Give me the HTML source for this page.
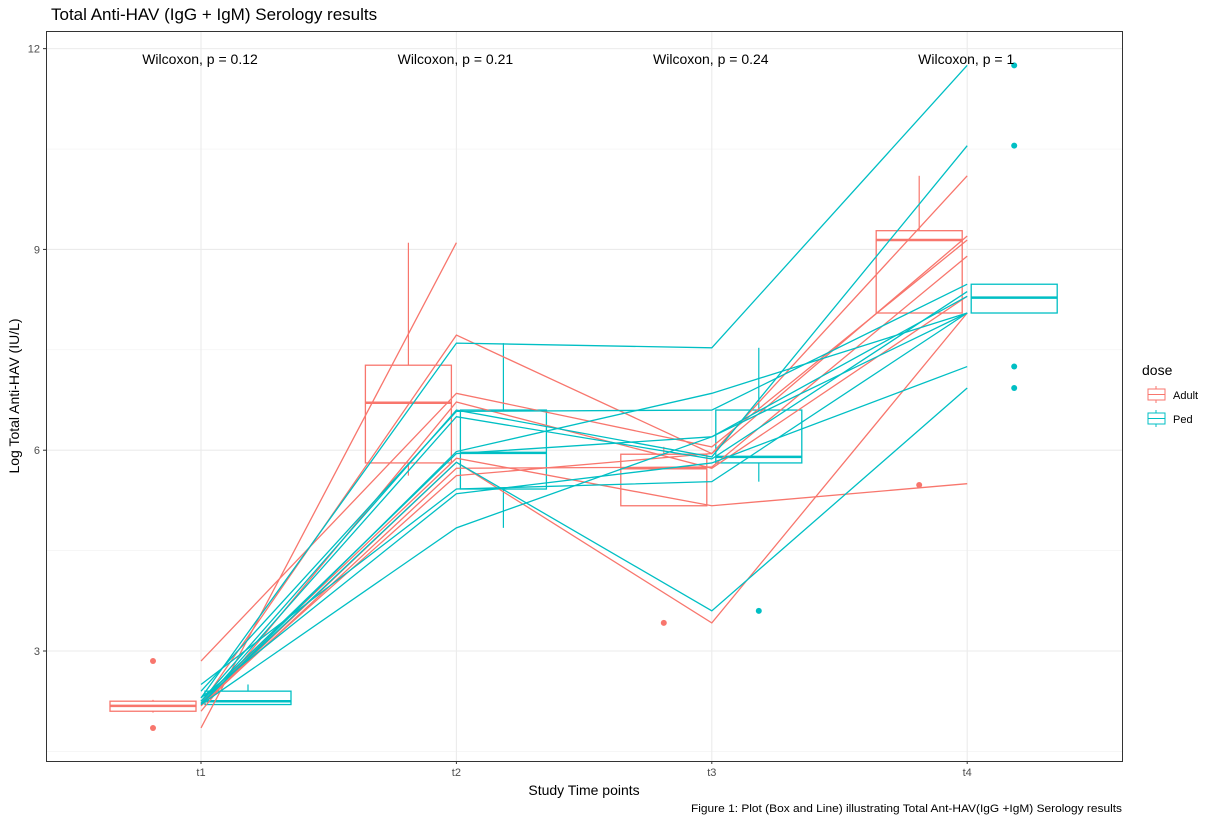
<!DOCTYPE html>
<html><head><meta charset="utf-8"><style>
body{margin:0;background:#fff;font-family:"Liberation Sans",sans-serif}
svg text{font-family:"Liberation Sans",sans-serif}
</style></head><body>
<svg id="c" width="1216" height="825" xmlns="http://www.w3.org/2000/svg">
<rect x="0" y="0" width="1216" height="825" fill="#fff"/>
<text x="51" y="20" font-size="17" fill="#000">Total Anti-HAV (IgG + IgM) Serology results</text>
<g id="grid"></g><g id="marks"></g><g id="axes"></g>
<rect x="46.5" y="31.5" width="1076" height="730" fill="none" stroke="#333" stroke-width="1"/>
<text x="0" y="0" transform="translate(19,396) rotate(-90)" text-anchor="middle" font-size="14">Log Total Anti-HAV (IU/L)</text>
<text x="584" y="795" text-anchor="middle" font-size="14">Study Time points</text>
<text x="1122" y="812" text-anchor="end" font-size="11" textLength="431" lengthAdjust="spacingAndGlyphs">Figure 1: Plot (Box and Line) illustrating Total Ant-HAV(IgG +IgM) Serology results</text>
<g>
<text x="1142" y="375" font-size="14">dose</text>
<g>
<line x1="1156" y1="386" x2="1156" y2="403" stroke="#F8766D"/><rect x="1148" y="389" width="17" height="11" fill="#fff" stroke="#F8766D"/><line x1="1148" y1="394.5" x2="1165" y2="394.5" stroke="#F8766D"/>
<text x="1173" y="399" font-size="11">Adult</text></g>
<g>
<line x1="1156" y1="410" x2="1156" y2="427" stroke="#00BFC4"/><rect x="1148" y="413" width="17" height="11" fill="#fff" stroke="#00BFC4"/><line x1="1148" y1="418.5" x2="1165" y2="418.5" stroke="#00BFC4"/>
<text x="1173" y="423" font-size="11">Ped</text></g>
</g>
</svg>
<script>
const categories=["t1","t2","t3","t4"];
const yTicks=[3,6,9,12];
const yMinor=[1.5,4.5,7.5,10.5];
const pLabels=["Wilcoxon, p = 0.12","Wilcoxon, p = 0.21","Wilcoxon, p = 0.24","Wilcoxon, p = 1"];
const adultLines=[[2.85,6.85,6.05,9.14],[1.85,9.10,null,null],[2.2,7.72,5.95,10.1],[2.1,6.72,5.73,8.3],[2.25,5.88,5.17,5.5],[2.2,5.82,3.42,8.05],[2.18,5.73,5.75,8.9],[2.22,5.62,5.95,9.2]];
const pedLines=[[2.3,7.6,7.53,11.75],[2.25,6.6,5.9,10.55],[2.4,6.58,6.6,8.48],[2.2,5.98,6.85,8.05],[2.2,6.5,5.87,8.37],[2.25,5.95,6.2,8.3],[2.22,5.82,3.6,6.93],[2.5,5.42,5.53,8.05],[2.3,5.35,5.81,7.25],[2.2,4.84,6.2,8.05]];
// box stats: [lowerWhisker,Q1,median,Q3,upperWhisker]
const adultBox=[[2.08,2.1,2.18,2.25,2.27],[5.62,5.81,6.71,7.27,9.1],[5.17,5.17,5.73,5.94,6.05],[8.05,8.05,9.14,9.28,10.1]];
const pedBox=[[2.2,2.2,2.25,2.4,2.5],[4.84,5.42,5.96,6.6,7.6],[5.53,5.81,5.9,6.6,7.53],[8.05,8.05,8.28,8.48,8.48]];
const adultOut=[[2.85,1.85],[],[3.42],[5.48]];
const pedOut=[[],[],[3.6],[11.75,10.55,7.25,6.93]];

const NS="http://www.w3.org/2000/svg";
const y=v=>651-(v-3)*66.93;
const x=i=>201+i*255.4;
function mk(tag,attrs,parent){const e=document.createElementNS(NS,tag);for(const k in attrs)e.setAttribute(k,attrs[k]);parent.appendChild(e);return e;}
const grid=document.getElementById('grid'),marks=document.getElementById('marks'),axes=document.getElementById('axes');
yMinor.forEach(v=>{const l=mk('line',{x1:46,x2:1122,y1:y(v),y2:y(v),stroke:'#f2f2f2','stroke-width':0.6},grid);

});
yTicks.forEach(v=>{const l=mk('line',{x1:46,x2:1122,y1:y(v),y2:y(v),stroke:'#ebebeb','stroke-width':1.1},grid);


mk('line',{x1:43,x2:46,y1:y(v),y2:y(v),stroke:'#333'},axes);
const t=mk('text',{x:40,y:y(v)+4,'text-anchor':'end','font-size':11,fill:'#4d4d4d'},axes);t.textContent=v;

});
categories.forEach((c,i)=>{const l=mk('line',{x1:x(i),x2:x(i),y1:31,y2:761,stroke:'#ebebeb','stroke-width':1.1},grid);


mk('line',{x1:x(i),x2:x(i),y1:761,y2:764,stroke:'#333'},axes);
const t=mk('text',{x:x(i),y:776,'text-anchor':'middle','font-size':11,fill:'#4d4d4d'},axes);t.textContent=c;


const p=mk('text',{x:x(i)-1,y:64,'text-anchor':'middle','font-size':14,fill:'#000'},axes);p.textContent=pLabels[i];

});
function drawBoxes(box,outs,off,col,name){box.forEach((b,i)=>{const cx=x(i)+off,hw=43;
const g=mk('g',{},marks);


mk('line',{x1:cx,x2:cx,y1:y(b[4]),y2:y(b[3]),stroke:col,'stroke-width':1.2},g);
mk('line',{x1:cx,x2:cx,y1:y(b[1]),y2:y(b[0]),stroke:col,'stroke-width':1.2},g);
mk('rect',{x:cx-hw,y:y(b[3]),width:2*hw,height:Math.max(0.5,y(b[1])-y(b[3])),fill:'none',stroke:col,'stroke-width':1.3},g);
mk('line',{x1:cx-hw,x2:cx+hw,y1:y(b[2]),y2:y(b[2]),stroke:col,'stroke-width':2.5},g);
outs[i].forEach(v=>{const d=mk('circle',{cx:cx,cy:y(v),r:3,fill:col},g);

});});}
drawBoxes(adultBox,adultOut,-48,'#F8766D','adult');
drawBoxes(pedBox,pedOut,47,'#00BFC4','ped');
function drawLines(set,col,name){set.forEach(s=>{const pts=[];s.forEach((v,i)=>{if(v!==null)pts.push(x(i)+','+y(v));});
const pl=mk('polyline',{points:pts.join(' '),fill:'none',stroke:col,'stroke-width':1.3},marks);

});}
drawLines(adultLines,'#F8766D','adult');
drawLines(pedLines,'#00BFC4','ped');
</script>
</body></html>
